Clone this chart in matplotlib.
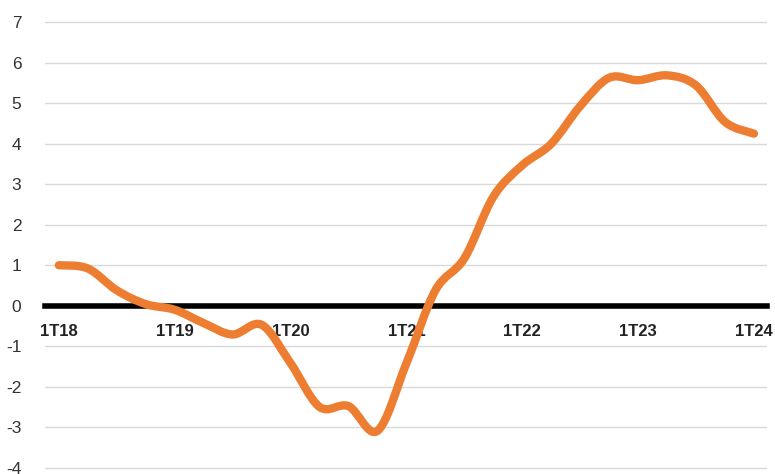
import matplotlib
matplotlib.use("Agg")
import matplotlib.pyplot as plt
import numpy as np
from matplotlib.path import Path
from matplotlib.patches import PathPatch

# Quarterly series, 1T18 .. 1T24
quarters = list(range(25))
values = [1.00, 0.92, 0.38, 0.04, -0.10, -0.43, -0.71, -0.47, -1.42, -2.50,
          -2.48, -3.09, -1.42, 0.38, 1.17, 2.69, 3.47, 4.00, 4.93, 5.63,
          5.57, 5.69, 5.44, 4.54, 4.25]
tick_pos = [0, 4, 8, 12, 16, 20, 24]
tick_labels = ["1T18", "1T19", "1T20", "1T21", "1T22", "1T23", "1T24"]
y_ticks = list(range(-4, 8))

plt.rcParams['font.family'] = ['Liberation Sans', 'DejaVu Sans']

fig = plt.figure(figsize=(7.75, 4.74), dpi=100)
W, H = 775, 474
left, right, top, bottom = 45, 767, 18, 474
ax = fig.add_axes([left / W, 1 - bottom / H, (right - left) / W, (bottom - top) / H])

ppu = 40.5
ax.set_ylim(-4 - (bottom - 467.7) / ppu, 7 + (22.3 - top) / ppu)
ax.set_xlim(-0.48, 24.45)

for s in ['left', 'right', 'top']:
    ax.spines[s].set_visible(False)
ax.spines['bottom'].set_position(('data', 0))
ax.spines['bottom'].set_linewidth(4.0)
ax.spines['bottom'].set_color('black')
ax.spines['bottom'].set_zorder(2)

ax.set_yticks(y_ticks)
ax.set_yticklabels([str(v) for v in y_ticks])
ax.tick_params(axis='y', length=0, pad=17, labelsize=12.5, labelcolor='#333333')
ax.set_xticks(tick_pos)
ax.set_xticklabels(tick_labels, fontweight='bold')
ax.tick_params(axis='x', length=0, pad=13, labelsize=12, labelcolor='#222222')

ax.grid(axis='y', color='#d9d9d9', linewidth=1.0)
ax.set_axisbelow(True)

# Smooth (Catmull-Rom) curve through the quarterly points
x = np.array(quarters, dtype=float)
y = np.array(values, dtype=float)
pts = np.column_stack([x, y])
ext = np.vstack([pts[0], pts, pts[-1]])
verts = [tuple(pts[0])]
codes = [Path.MOVETO]
for i in range(len(pts) - 1):
    p0, p1, p2, p3 = ext[i], ext[i + 1], ext[i + 2], ext[i + 3]
    c1 = p1 + (p2 - p0) / 6.0
    c2 = p2 - (p3 - p1) / 6.0
    verts += [tuple(c1), tuple(c2), tuple(p2)]
    codes += [Path.CURVE4, Path.CURVE4, Path.CURVE4]
patch = PathPatch(Path(verts, codes), facecolor='none', edgecolor='#ED7D31',
                  linewidth=6, capstyle='round', joinstyle='round',
                  transform=ax.transData, zorder=3)
ax.add_patch(patch)

fig.savefig("out.png", dpi=100)
